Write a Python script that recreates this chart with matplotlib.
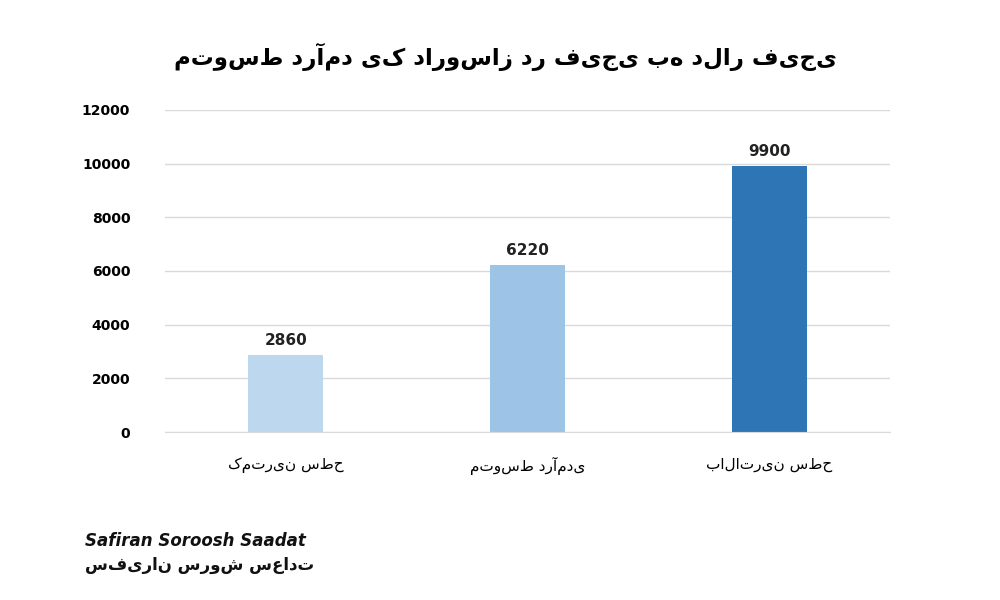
import matplotlib
matplotlib.use("Agg")
import matplotlib.pyplot as plt

categories = ["کمترین سطح", "متوسط درآمدی", "بالاترین سطح"]
values = [2860, 6220, 9900]
colors = ["#BDD7EE", "#9DC3E6", "#2E75B6"]
title = "متوسط درآمد یک داروساز در فیجی به دلار فیجی"

plt.rcParams['font.family'] = ['DejaVu Sans']
fig = plt.figure(figsize=(10, 6), dpi=100)
ax = fig.add_axes([0.165, 0.28, 0.725, 0.537])
x = range(len(values))
ax.bar(x, values, width=0.31, color=colors, zorder=2)
for i, v in zip(x, values):
    ax.text(i, v + 250, str(v), ha='center', va='bottom', fontsize=11, fontweight='bold', color='#222222')
ax.set_ylim(0, 12000)
ax.set_xlim(-0.5, 2.5)
ax.set_yticks(range(0, 12001, 2000))
ax.tick_params(axis='y', labelsize=10, length=0, pad=25)
for l in ax.get_yticklabels():
    l.set_fontweight('bold')
ax.set_xticks(list(x))
ax.set_xticklabels(categories, fontsize=11)
ax.tick_params(axis='x', length=0, pad=18)
ax.grid(axis='y', color='#D9D9D9', linewidth=1, zorder=0)
for s in ['top', 'right', 'left']:
    ax.spines[s].set_visible(False)
ax.spines['bottom'].set_color('#D9D9D9')
fig.text(0.505, 0.905, title, ha='center', va='center', fontsize=16.5, fontweight='bold')
fig.text(0.085, 0.098, "Safiran Soroosh Saadat", ha='left', va='center', fontsize=12,
         fontweight='bold', fontstyle='italic', color='#111111')
fig.text(0.085, 0.058, "سفیران سروش سعادت", ha='left', va='center', fontsize=12,
         fontweight='bold', color='#111111')
fig.savefig("out.png", dpi=100, facecolor='white')
